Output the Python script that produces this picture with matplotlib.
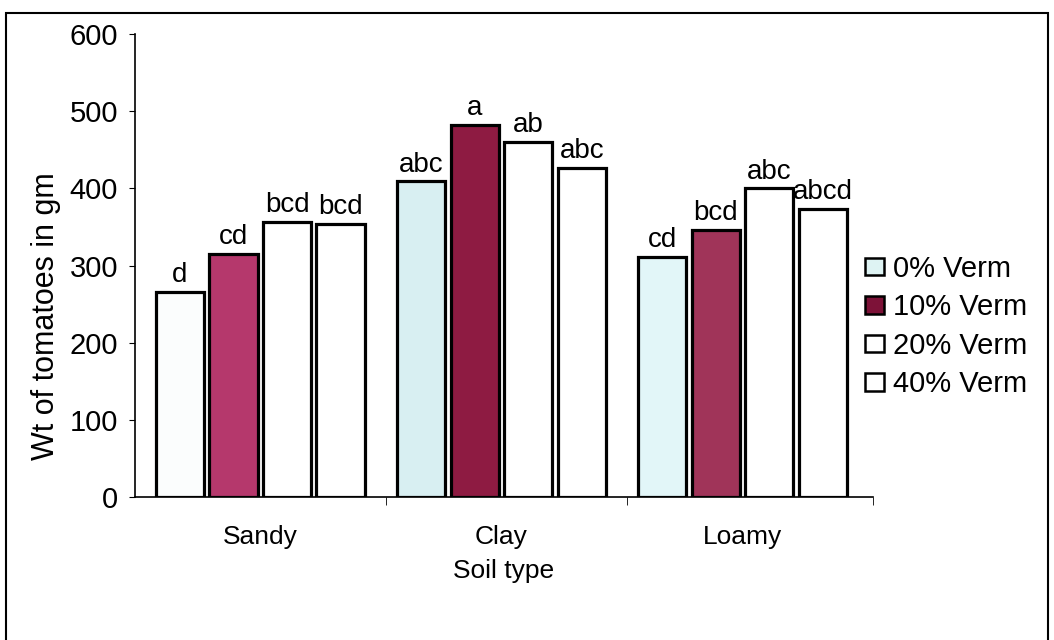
import matplotlib
matplotlib.use("Agg")
import matplotlib.pyplot as plt
from matplotlib.patches import Rectangle
import numpy as np

plt.rcParams['font.family'] = ['Liberation Sans', 'DejaVu Sans']

# data
soils = ["Sandy", "Clay", "Loamy"]
series = ["0% Verm", "10% Verm", "20% Verm", "40% Verm"]
verm_0 = [266, 409, 311]
verm_10 = [315, 482, 346]
verm_20 = [356, 460, 400]
verm_40 = [354, 426, 373]
letters_0 = ["d", "abc", "cd"]
letters_10 = ["cd", "a", "bcd"]
letters_20 = ["bcd", "ab", "abc"]
letters_40 = ["bcd", "abc", "abcd"]

values = [verm_0, verm_10, verm_20, verm_40]
letters = [letters_0, letters_10, letters_20, letters_40]
# per-bar fill (scanned print: sandy 0% looks white)
fills = [["#fbfdfd", "#d8eff2", "#e2f6f8"],
         ["#b5386c", "#8e1b42", "#a03459"],
         ["white", "white", "white"],
         ["white", "white", "white"]]
legend_fill = ["#def3f3", "#7d1238", "white", "white"]

fig = plt.figure(figsize=(10.54, 6.4), dpi=100)
ax = fig.add_axes([0.128, 0.223, 0.70, 0.724])

x = np.arange(len(soils))
step = 0.222
width = 0.20
for i in range(len(series)):
    pos = x + (i - 1.5) * step
    ax.bar(pos, values[i], width, color=fills[i], edgecolor="black", linewidth=2.3)
    for px, v, t in zip(pos, values[i], letters[i]):
        ax.text(px, v + 5, t, ha="center", va="bottom", fontsize=20)

ax.set_ylim(0, 600)
ax.set_xlim(-0.52, 2.54)
ax.set_yticks(range(0, 601, 100))
ax.set_xticks(x)
ax.set_xticklabels(soils, fontsize=19)
ax.tick_params(axis="y", labelsize=21, length=4, pad=8)
ax.tick_params(axis="x", length=0, pad=20)
# tick marks between groups on the category axis
ax.set_xticks([0.52, 1.52, 2.54], minor=True)
ax.tick_params(axis="x", which="minor", length=6, direction="out")
ax.spines["top"].set_visible(False)
ax.spines["right"].set_visible(False)
ax.spines["left"].set_linewidth(1.2)
ax.spines["bottom"].set_linewidth(1.2)
ax.set_xlabel("Soil type", fontsize=19, labelpad=7)
ax.set_ylabel("Wt of tomatoes in gm", fontsize=22)
ax.yaxis.set_label_coords(-0.10, 0.39)

handles = [Rectangle((0, 0), 1, 1, facecolor=c, edgecolor="black", linewidth=1.8)
           for c in legend_fill]
fig.legend(handles, series, loc="center left", bbox_to_anchor=(0.81, 0.49),
           frameon=False, fontsize=21, handlelength=0.65, handleheight=0.55,
           handletextpad=0.3, labelspacing=0.36, borderaxespad=0)

# outer frame of the figure
fig.patches.append(Rectangle((0.006, -0.02), 0.988, 1.0, transform=fig.transFigure,
                             fill=False, edgecolor="black", linewidth=1.5))

fig.savefig("out.png", dpi=100)
